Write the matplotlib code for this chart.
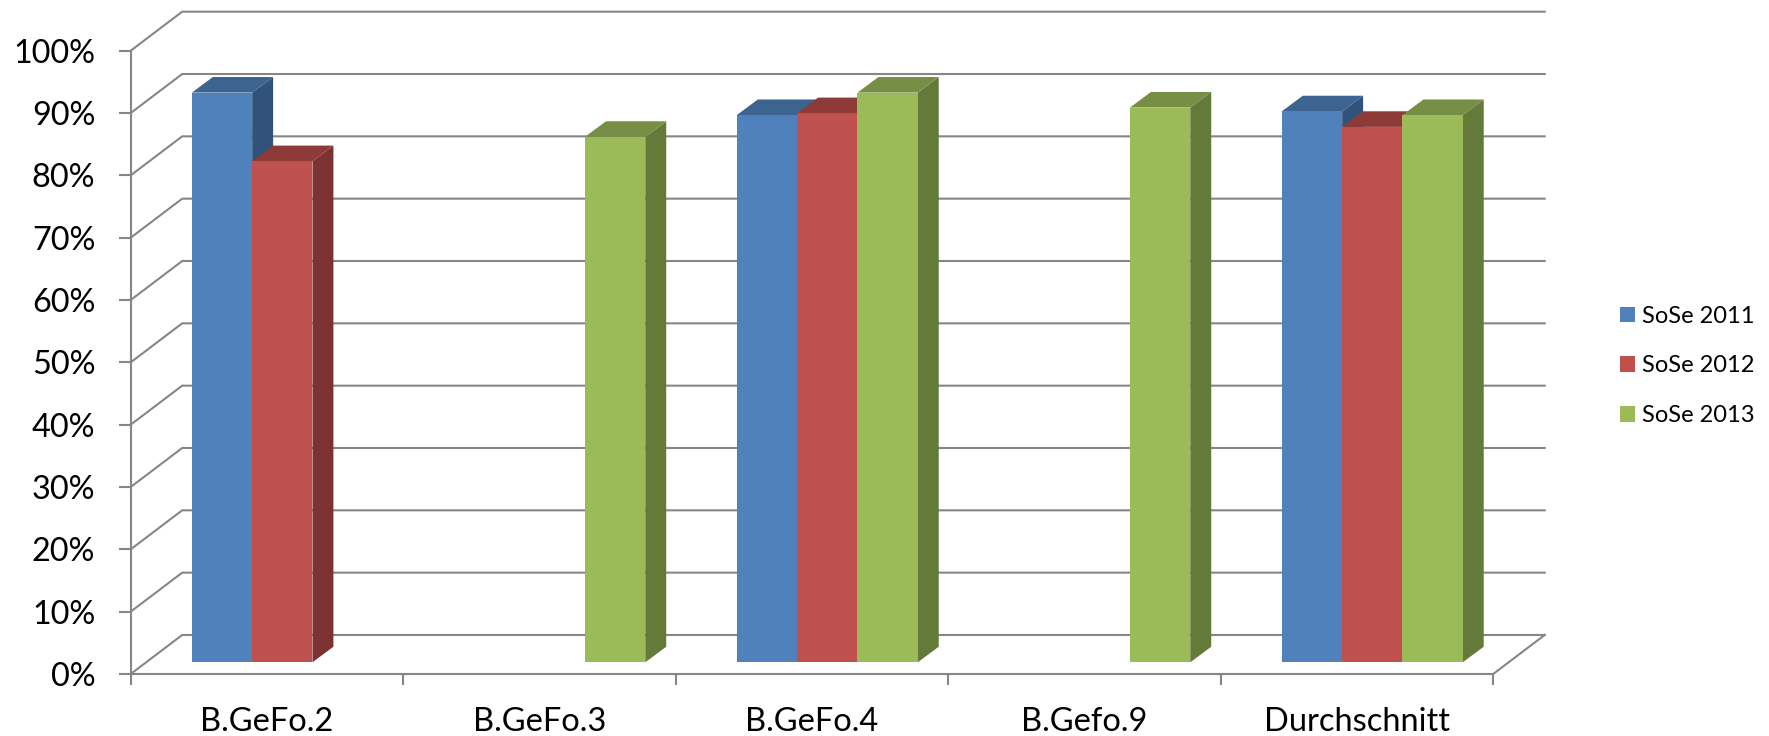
import numpy as np
import matplotlib
matplotlib.use("Agg")
import matplotlib.pyplot as plt
from matplotlib.patches import Patch

plt.rcParams['font.family'] = ['Lato', 'DejaVu Sans']

categories = ['B.GeFo.2', 'B.GeFo.3', 'B.GeFo.4', 'B.Gefo.9', 'Durchschnitt']
series_names = ['SoSe 2011', 'SoSe 2012', 'SoSe 2013']
sose_2011 = [91.4, np.nan, 87.8, np.nan, 88.4]
sose_2012 = [80.4, np.nan, 88.1, np.nan, 85.9]
sose_2013 = [np.nan, 84.3, 91.4, 89.0, 87.8]
y_ticks = [0, 10, 20, 30, 40, 50, 60, 70, 80, 90, 100]

front_colors = ['#4F81BD', '#C0504D', '#9BBB59']
top_colors = ['#3D6391', '#8E3A38', '#778F45']
side_colors = ['#31527A', '#7C3231', '#647A39']
grid_color = '#868686'

# fake 3d: the wall sits behind the axes frame, bars stand part way in
wall_dx, wall_dy = 0.189, 6.26
bar_dx, bar_dy = 0.0564, 1.877
depth_dx, depth_dy = 0.0769, 2.50
bar_width = 0.2213

fig = plt.figure(figsize=(17.69, 7.36), dpi=100)
ax = fig.add_axes([130.7 / 1769, 62 / 736, 1362.5 / 1769, 623.3 / 736])
ax.set_xlim(-0.5, 4.5)
ax.set_ylim(0, 100)
for name in ['top', 'right']:
    ax.spines[name].set_visible(False)
for name in ['left', 'bottom']:
    ax.spines[name].set_color(grid_color)
    ax.spines[name].set_linewidth(1.5)
    ax.spines[name].set_zorder(1)

# gridlines: diagonal on the side wall, then along the back wall
for val in y_ticks:
    ax.plot([-0.5, -0.5 + wall_dx, 4.5 + wall_dx],
            [val, val + wall_dy, val + wall_dy],
            color=grid_color, lw=1.5, clip_on=False, zorder=1,
            solid_joinstyle='miter')
ax.plot([4.5, 4.5 + wall_dx], [0, wall_dy], color=grid_color, lw=1.5,
        clip_on=False, zorder=1)

all_values = [sose_2011, sose_2012, sose_2013]
for cat_idx in range(len(categories)):
    for ser_idx, values in enumerate(all_values):
        val = values[cat_idx]
        if np.isnan(val):
            continue
        left = cat_idx + (ser_idx - 1.5) * bar_width + bar_dx
        right = left + bar_width
        top = val + bar_dy
        # side face, top face, then the front
        ax.fill([right, right + depth_dx, right + depth_dx, right],
                [bar_dy, bar_dy + depth_dy, top + depth_dy, top],
                color=side_colors[ser_idx], lw=0, clip_on=False, zorder=2)
        ax.fill([left, left + depth_dx, right + depth_dx, right],
                [top, top + depth_dy, top + depth_dy, top],
                color=top_colors[ser_idx], lw=0, clip_on=False, zorder=2)
        ax.bar(left, val, width=bar_width, bottom=bar_dy, align='edge',
               color=front_colors[ser_idx], lw=0, clip_on=False, zorder=2)

ax.set_yticks(y_ticks)
ax.set_yticklabels(['%d%%' % v for v in y_ticks])
ax.tick_params(axis='y', length=8.6, width=1.5, color=grid_color, pad=17,
               labelsize=23.3, labelcolor='black')
ax.set_xticks(np.arange(len(categories)))
ax.set_xticklabels(categories)
ax.tick_params(axis='x', which='major', length=0, pad=24, labelsize=23.5,
               labelcolor='black')
ax.set_xticks(np.arange(len(categories) + 1) - 0.5, minor=True)
ax.tick_params(axis='x', which='minor', length=8, width=1.5, color=grid_color)

handles = [Patch(color=c, lw=0) for c in front_colors]
fig.legend(handles, series_names, loc='center left',
           bbox_to_anchor=(1598.8 / 1769, 1 - 366 / 736), frameon=False,
           fontsize=17, handlelength=0.635, handleheight=0.635,
           handletextpad=0.28, labelspacing=1.22)

fig.savefig('out.png', dpi=100)
